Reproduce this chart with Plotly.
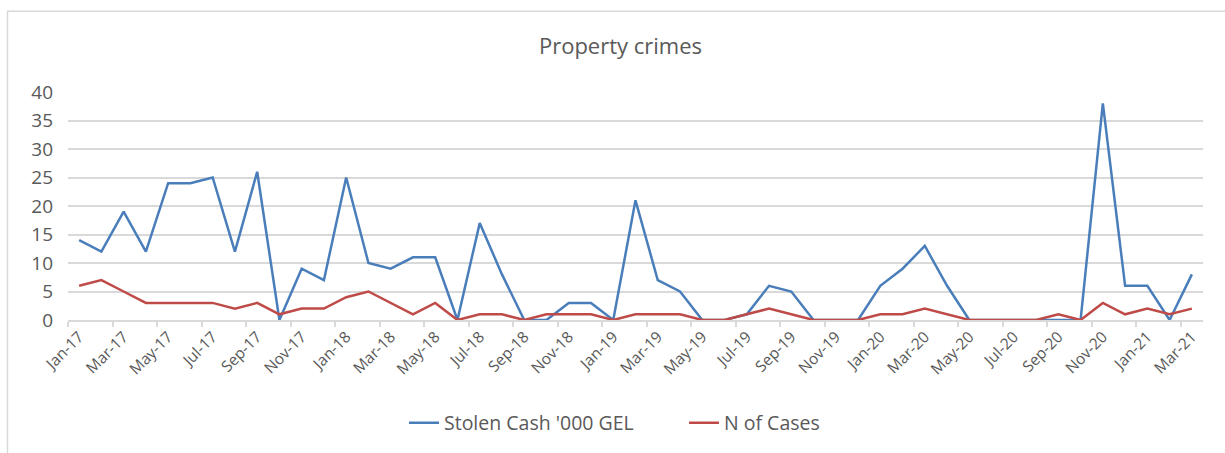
import plotly.graph_objects as go

months = ["Jan", "Feb", "Mar", "Apr", "May", "Jun", "Jul", "Aug", "Sep", "Oct", "Nov", "Dec"]
categories = []
for yr in ["17", "18", "19", "20", "21"]:
    for m in months:
        categories.append(f"{m}-{yr}")
categories = categories[:51]  # Jan-17 .. Mar-21

stolen_cash = [14, 12, 19, 12, 24, 24, 25, 12, 26, 0, 9, 7,
               25, 10, 9, 11, 11, 0, 17, 8, 0, 0, 3, 3,
               0, 21, 7, 5, 0, 0, 1, 6, 5, 0, 0, 0,
               6, 9, 13, 6, 0, 0, 0, 0, 0, 0, 38, 6,
               6, 0, 8]
n_cases = [6, 7, 5, 3, 3, 3, 3, 2, 3, 1, 2, 2,
           4, 5, 3, 1, 3, 0, 1, 1, 0, 1, 1, 1,
           0, 1, 1, 1, 0, 0, 1, 2, 1, 0, 0, 0,
           1, 1, 2, 1, 0, 0, 0, 0, 1, 0, 3, 1,
           2, 1, 2]

FONT = "Open Sans"
TXT = "#595959"
W, H = 1225, 453
L, R, T, B = 68, 22, 92, 132
PW, PH = W - L - R, H - T - B


def px_x(p):
    return (p - L) / PW


def px_y(p):
    return (H - B - p) / PH


fig = go.Figure()
fig.add_trace(go.Scatter(x=categories, y=stolen_cash, mode="lines",
                         name="Stolen Cash '000 GEL",
                         line=dict(color="#4a7ebb", width=2.5)))
fig.add_trace(go.Scatter(x=categories, y=n_cases, mode="lines",
                         name="N of Cases",
                         line=dict(color="#be4b48", width=2.5)))

fig.update_layout(
    width=W, height=H,
    margin=dict(l=L, r=R, t=T, b=B),
    paper_bgcolor="white", plot_bgcolor="white",
    title=dict(text="Property crimes", x=620.5 / W, xanchor="center",
               y=1 - 46 / H, yanchor="middle",
               font=dict(family=FONT, size=22, color=TXT)),
    font=dict(family=FONT, color=TXT),
    xaxis=dict(type="category", categoryorder="array", categoryarray=categories,
               range=[-0.5, 50.5], dtick=2, tickson="boundaries",
               ticks="outside", ticklen=5, tickcolor="#d9d9d9", tickwidth=1.5,
               tickangle=-45, tickfont=dict(size=15.5, color=TXT),
               showgrid=False, showline=True, linecolor="#d9d9d9", linewidth=1.5,
               zeroline=False, automargin=False),
    yaxis=dict(range=[0, 40], dtick=5, tick0=0, showgrid=True, gridcolor="#d9d9d9",
               gridwidth=1.5, zeroline=False, showline=False, ticks="",
               ticklabelstandoff=14, tickfont=dict(size=19, color=TXT),
               automargin=False),
    legend=dict(orientation="h", x=px_x(684), xanchor="center",
                y=px_y(423), yanchor="middle", entrywidth=235,
                font=dict(size=19.5, color=TXT), tracegroupgap=0),
    shapes=[dict(type="rect", xref="paper", yref="paper",
                 x0=px_x(7.5), x1=1.2, y0=-1.5, y1=px_y(11),
                 line=dict(color="#d9d9d9", width=1.5), fillcolor="rgba(0,0,0,0)",
                 layer="below")],
    showlegend=True,
)

fig.write_html("out.html", config={"displayModeBar": False},
               post_script="document.body.style.margin='0';document.body.style.padding='0';")
